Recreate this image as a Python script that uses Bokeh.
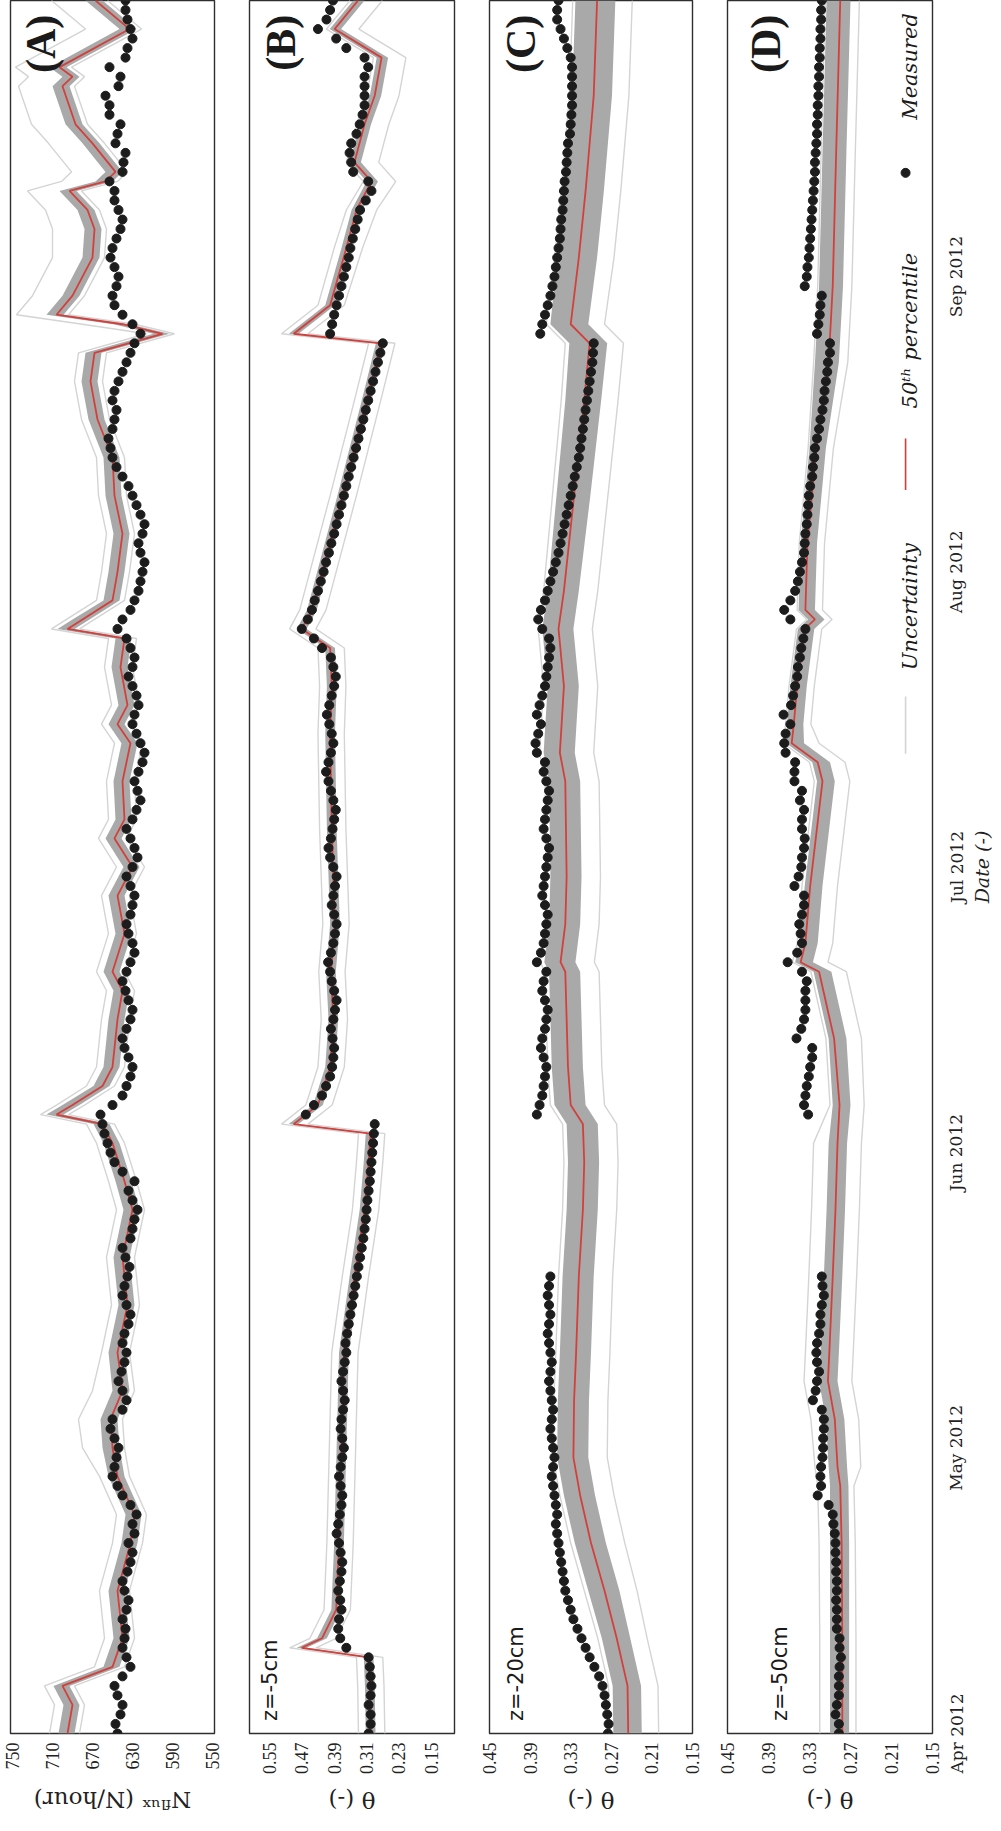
import math
import numpy as np
from bokeh.plotting import figure
from bokeh.layouts import row, column
from bokeh.models import Range1d, FixedTicker, DatetimeTickFormatter, PrintfTickFormatter, Label, BoxAnnotation
from bokeh.embed import file_html
from bokeh.resources import INLINE

# ======================= data =======================
START = "2012-04-01"
N_DAYS = 182
month_starts = ["2012-04-01", "2012-05-01", "2012-06-01", "2012-07-01", "2012-08-01", "2012-09-01"]

ticks_A = [750, 710, 670, 630, 590, 550]
ticks_B = [0.55, 0.47, 0.39, 0.31, 0.23, 0.15]
ticks_CD = [0.45, 0.39, 0.33, 0.27, 0.21, 0.15]

# ---- (A) neutron flux, measured daily (start day, values) ----
meas_A_segments = [
    (0, [645, 647, 642, 640, 645, 648, 640]),
    (7, [632, 636, 640, 638]),
    (11, [637, 640, 636, 634, 638, 640, 635, 632, 630, 634]),
    (21, [628, 630, 626, 632, 640, 645, 650, 648, 646]),
    (30, [644, 648, 652, 650, 640, 636, 640, 644, 641, 638, 636]),
    (41, [640, 638, 634, 632, 636, 640, 638, 635, 633, 637]),
    (51, [640, 632, 630, 628, 625, 630, 634, 628, 640, 648]),
    (61, [652, 655, 658, 660, 662, 650]),
    (67, [640, 636, 632, 630, 634, 638, 640, 636, 632]),
    (76, [630, 634, 637, 640, 636, 632, 628, 630, 634, 636]),
    (86, [632, 630, 628, 632, 636, 630, 625, 628, 632, 636]),
    (96, [630, 626, 622, 625, 628, 624, 620, 618, 622, 626]),
    (106, [630, 628, 624, 626, 630, 634, 630, 628, 632, 636]),
    (116, [645, 640, 632, 628, 624, 622]),
    (122, [620, 618, 622, 624, 620, 618, 622, 626, 630, 634]),
    (132, [640, 646, 650, 652, 654, 650, 648, 646, 650, 648, 644]),
    (143, [640, 636, 632, 628, 622, 630, 640]),
    (150, [648, 650, 646, 644, 648, 652, 650, 646, 642, 640, 644, 648]),
    (162, [648, 653, 640, 639, 637, 647, 645, 642, 653, 653, 657, 644, 642, 653, 637, 635, 630, 632, 635, 637, 637]),
]
mod_A_days = [0, 3, 5, 7, 10, 15, 20, 23, 27, 30, 33, 36, 40, 45, 50, 55, 58, 62, 64, 65, 66, 68, 70, 75, 78, 80,
              84, 88, 91, 94, 96, 100, 104, 106, 108, 112, 115, 116, 117, 119, 122, 126, 130, 134, 138, 142, 145,
              147, 148, 149, 151, 155, 158, 160, 162, 163, 164, 167, 169, 173, 174, 175, 179, 182]
mod_A = [695, 690, 700, 650, 640, 645, 632, 628, 645, 650, 652, 640, 645, 635, 640, 630, 638, 650, 660, 706, 690,
         660, 650, 645, 640, 650, 638, 645, 630, 648, 638, 640, 632, 645, 635, 642, 638, 695, 680, 650, 645, 640,
         648, 650, 665, 672, 668, 600, 640, 706, 690, 670, 668, 675, 693, 657, 647, 670, 687, 700, 690, 703, 633, 667]
band_up_A = [9, 9, 9, 9, 9, 9, 9, 9, 9, 10, 10, 10, 9, 9, 9, 9, 9, 9, 9, 10, 10, 9, 9, 9, 9, 9, 9, 9, 9, 9, 9, 9,
             9, 9, 9, 9, 9, 10, 10, 9, 9, 9, 9, 9, 9, 9, 9, 9, 9, 10, 10, 10, 10, 10, 10, 10, 10, 10, 10, 10, 10, 10, 10, 10]
band_dn_A = [7, 7, 7, 7, 7, 7, 7, 7, 7, 7, 7, 7, 7, 7, 7, 7, 7, 7, 7, 7, 7, 7, 7, 7, 7, 7, 7, 7, 7, 7, 7, 7,
             7, 7, 7, 7, 7, 7, 7, 7, 7, 7, 7, 7, 7, 7, 7, 7, 7, 7, 7, 7, 7, 7, 7, 7, 7, 7, 7, 7, 7, 7, 7, 7]
out_up_A = [18, 18, 18, 18, 18, 18, 18, 18, 18, 30, 32, 30, 16, 16, 16, 16, 16, 16, 16, 16, 16, 16, 16, 16, 16, 16,
            16, 16, 16, 16, 16, 16, 16, 16, 16, 16, 16, 16, 16, 16, 16, 16, 16, 16, 16, 16, 16,
            16, 40, 40, 40, 40, 42, 42, 42, 44, 44, 44, 44, 44, 44, 44, 44, 44]
out_dn_A = [12, 12, 12, 12, 12, 12, 12, 12, 12, 12, 12, 12, 12, 12, 12, 12, 12, 12, 12, 12, 12, 12, 12, 12, 12, 12,
            12, 12, 12, 12, 12, 12, 12, 12, 12, 12, 12, 12, 12, 12, 12, 12, 12, 12, 12, 12, 12,
            12, 12, 12, 12, 12, 12, 12, 12, 12, 12, 12, 12, 12, 12, 12, 12, 12]

# ---- (B) theta at z=-5 cm ----
meas_B_segments = [
    (0, [0.305, 0.300, 0.300, 0.305, 0.300, 0.298, 0.300, 0.302, 0.305]),
    (9, [0.360, 0.375]),
    (11, [0.380, 0.378, 0.372, 0.375, 0.380, 0.376, 0.372, 0.370, 0.374, 0.378]),
    (21, [0.384, 0.380, 0.376, 0.372, 0.370, 0.374, 0.378, 0.374, 0.370, 0.366]),
    (31, [0.370, 0.374, 0.372, 0.368, 0.364, 0.368, 0.372, 0.368, 0.364, 0.360]),
    (41, [0.362, 0.358, 0.354, 0.350, 0.346, 0.342, 0.338, 0.334]),
    (49, [0.330, 0.326, 0.322, 0.318, 0.315, 0.312, 0.310, 0.308, 0.305, 0.302, 0.300, 0.298]),
    (61, [0.296, 0.294, 0.292, 0.290]),
    (65, [0.460, 0.440, 0.420, 0.410, 0.400]),
    (70, [0.395, 0.392, 0.390, 0.394, 0.398, 0.392, 0.388, 0.384, 0.390, 0.396, 0.400]),
    (81, [0.405, 0.398, 0.392, 0.388, 0.384, 0.390, 0.396, 0.392, 0.388, 0.384]),
    (91, [0.392, 0.400, 0.404, 0.398, 0.394, 0.390, 0.386, 0.392, 0.398, 0.404]),
    (101, [0.410, 0.404, 0.398, 0.392, 0.396, 0.402, 0.408, 0.402, 0.396, 0.390]),
    (111, [0.386, 0.392, 0.398, 0.420, 0.440, 0.470]),
    (117, [0.455, 0.445, 0.438, 0.430, 0.423, 0.416, 0.410, 0.403, 0.397, 0.390, 0.384, 0.378, 0.372, 0.366, 0.360,
           0.354, 0.348, 0.342, 0.336, 0.330, 0.324, 0.318, 0.312, 0.306, 0.300, 0.294, 0.288, 0.282, 0.276, 0.270]),
    (147, [0.400, 0.395, 0.390, 0.384, 0.378, 0.372, 0.366, 0.360, 0.354, 0.350, 0.344, 0.338, 0.332, 0.326, 0.312]),
    (162, [0.298, 0.306, 0.343, 0.348, 0.352, 0.348, 0.335, 0.327, 0.320, 0.315, 0.315, 0.315, 0.315, 0.306, 0.315,
           0.360, 0.385, 0.430, 0.409, 0.400, 0.393]),
]
mod_B_days = [0, 5, 8, 9, 10, 13, 20, 30, 40, 48, 55, 60, 63, 64, 66, 70, 75, 80, 85, 90, 95, 100, 105, 110, 114,
              116, 118, 130, 140, 146, 147, 150, 156, 160, 163, 165, 169, 172, 176, 179, 182]
mod_B = [0.300, 0.302, 0.305, 0.470, 0.420, 0.385, 0.378, 0.372, 0.366, 0.340, 0.315, 0.305, 0.300, 0.490, 0.430,
         0.400, 0.392, 0.398, 0.388, 0.392, 0.396, 0.398, 0.400, 0.396, 0.400, 0.470, 0.445, 0.370, 0.310, 0.275,
         0.490, 0.400, 0.360, 0.335, 0.298, 0.340, 0.315, 0.290, 0.273, 0.389, 0.331]
band_up_B = [0.012, 0.012, 0.012, 0.012, 0.012, 0.012, 0.012, 0.012, 0.012, 0.012, 0.012, 0.012, 0.012, 0.012,
             0.012, 0.012, 0.012, 0.012, 0.012, 0.012, 0.012, 0.012, 0.012, 0.012, 0.012, 0.012, 0.012, 0.012,
             0.012, 0.012, 0.012, 0.012, 0.012, 0.012, 0.012, 0.012, 0.012, 0.012, 0.012, 0.012, 0.012]
band_dn_B = [0.012, 0.012, 0.012, 0.012, 0.012, 0.012, 0.012, 0.012, 0.012, 0.012, 0.012, 0.012, 0.012, 0.012,
             0.012, 0.012, 0.012, 0.012, 0.012, 0.012, 0.012, 0.012, 0.012, 0.012, 0.012, 0.012, 0.012, 0.012,
             0.012, 0.012, 0.012, 0.012, 0.012, 0.014, 0.016, 0.016, 0.016, 0.016, 0.016, 0.016, 0.016]
out_up_B = [0.030, 0.030, 0.030, 0.030, 0.030, 0.030, 0.030, 0.030, 0.030, 0.030, 0.030, 0.030, 0.030, 0.030,
            0.030, 0.030, 0.030, 0.030, 0.030, 0.030, 0.030, 0.030, 0.030, 0.030, 0.030, 0.030, 0.030, 0.030,
            0.030, 0.030, 0.030, 0.030, 0.030, 0.025, 0.020, 0.020, 0.020, 0.020, 0.020, 0.020, 0.020]
out_dn_B = [0.035, 0.035, 0.035, 0.035, 0.035, 0.035, 0.035, 0.035, 0.035, 0.035, 0.035, 0.035, 0.035, 0.035,
            0.035, 0.035, 0.035, 0.035, 0.035, 0.035, 0.035, 0.035, 0.035, 0.035, 0.035, 0.035, 0.035, 0.035,
            0.035, 0.035, 0.035, 0.035, 0.040, 0.050, 0.060, 0.060, 0.060, 0.060, 0.060, 0.060, 0.060]

# ---- (C) theta at z=-20 cm ----
meas_C_segments = [
    (0, [0.275, 0.274, 0.276, 0.278, 0.280, 0.283, 0.288]),
    (7, [0.295, 0.302, 0.308, 0.314, 0.320, 0.326, 0.330, 0.334, 0.338, 0.340, 0.342, 0.344, 0.346, 0.348]),
    (21, [0.350, 0.352, 0.350, 0.352, 0.354, 0.356, 0.358, 0.356, 0.354, 0.356, 0.358, 0.360, 0.358, 0.356,
          0.358, 0.360, 0.362, 0.360, 0.358, 0.360, 0.362, 0.364, 0.362, 0.360, 0.362, 0.364, 0.362, 0.360]),
    (65, [0.380, 0.376, 0.372, 0.370, 0.368, 0.366, 0.370, 0.374, 0.372, 0.368, 0.366, 0.364, 0.368, 0.372,
          0.370, 0.366, 0.380, 0.374, 0.370, 0.368, 0.366, 0.364, 0.368, 0.372, 0.370, 0.368, 0.366, 0.364,
          0.362, 0.366, 0.370, 0.368, 0.366, 0.364, 0.362, 0.366, 0.370, 0.368, 0.380, 0.382, 0.378, 0.374,
          0.380, 0.376, 0.372, 0.368, 0.366, 0.364]),
    (113, [0.362, 0.360, 0.362, 0.372, 0.378, 0.374, 0.368, 0.364, 0.360, 0.356, 0.352, 0.348, 0.345, 0.342,
           0.339, 0.336, 0.333, 0.330, 0.327, 0.324, 0.321, 0.318, 0.316, 0.314, 0.312, 0.310, 0.308, 0.306,
           0.304, 0.302, 0.300, 0.298, 0.297, 0.296]),
    (147, [0.375, 0.372, 0.368, 0.364, 0.360, 0.357, 0.354, 0.352, 0.350, 0.348, 0.346, 0.345, 0.344, 0.342, 0.341]),
    (162, [0.340, 0.339, 0.337, 0.336, 0.335, 0.334, 0.331, 0.330, 0.329, 0.328, 0.328, 0.328, 0.328, 0.328,
           0.330, 0.335, 0.340, 0.345, 0.350, 0.350, 0.348]),
]
mod_C_days = [0, 5, 10, 15, 20, 25, 29, 35, 40, 48, 55, 60, 64, 66, 70, 80, 81, 85, 90, 100, 103, 110, 116, 120,
              130, 140, 146, 148, 155, 162, 172, 182]
mod_C = [0.245, 0.246, 0.262, 0.280, 0.300, 0.316, 0.326, 0.325, 0.322, 0.318, 0.312, 0.310, 0.312, 0.330, 0.334,
         0.338, 0.345, 0.338, 0.336, 0.338, 0.346, 0.340, 0.348, 0.340, 0.325, 0.310, 0.302, 0.330, 0.318, 0.308,
         0.296, 0.291]
band_up_C = [0.022, 0.022, 0.022, 0.024, 0.024, 0.024, 0.024, 0.024, 0.024, 0.024, 0.024, 0.024, 0.024, 0.024,
             0.024, 0.024, 0.024, 0.024, 0.024, 0.024, 0.024, 0.024, 0.024, 0.024, 0.026, 0.028, 0.030, 0.030,
             0.032, 0.032, 0.032, 0.032]
band_dn_C = [0.020, 0.020, 0.020, 0.022, 0.022, 0.022, 0.022, 0.022, 0.022, 0.022, 0.022, 0.022, 0.022, 0.022,
             0.022, 0.022, 0.022, 0.022, 0.022, 0.022, 0.022, 0.022, 0.022, 0.022, 0.024, 0.025, 0.026, 0.026,
             0.027, 0.027, 0.027, 0.027]
out_up_C = [0.028, 0.028, 0.028, 0.030, 0.030, 0.030, 0.030, 0.030, 0.030, 0.030, 0.030, 0.030, 0.030, 0.030,
            0.030, 0.030, 0.030, 0.030, 0.030, 0.030, 0.030, 0.030, 0.030, 0.030, 0.032, 0.034, 0.036, 0.036,
            0.036, 0.036, 0.036, 0.036]
out_dn_C = [0.045, 0.045, 0.045, 0.048, 0.050, 0.050, 0.050, 0.050, 0.050, 0.050, 0.050, 0.050, 0.050, 0.050,
            0.050, 0.050, 0.050, 0.050, 0.050, 0.050, 0.050, 0.050, 0.050, 0.050, 0.050, 0.050, 0.050, 0.050,
            0.052, 0.052, 0.052, 0.052]

# ---- (D) theta at z=-50 cm, measured daily from day 0 (None = no data) ----
meas_D = [0.287, 0.287, 0.292, 0.290, 0.287, 0.287, 0.287, 0.286, 0.284, 0.286, 0.286, 0.290, 0.290, 0.290, 0.291,
          0.290, 0.290, 0.291, 0.291, 0.292, 0.292, 0.293, 0.295, 0.296, 0.302, 0.318, 0.313, 0.314,
          0.313, 0.311, 0.310, 0.310, 0.309, 0.309, 0.312, 0.325, 0.321, 0.319, 0.316, 0.319, 0.320, 0.319,
          0.316, 0.314, 0.314, 0.312, 0.309, 0.311, 0.312,
          None, None, None, None, None, None, None, None, None, None, None, None, None, None, None, None,
          0.332, 0.338, 0.336, 0.334, 0.331, 0.329, 0.326, 0.326, 0.349, 0.342, 0.338, 0.336, 0.336, 0.336,
          0.334, 0.341, 0.362, 0.348, 0.341, 0.343, 0.345, 0.341, 0.338, 0.338, 0.352, 0.346, 0.342, 0.341,
          0.338, 0.337, 0.341, 0.341, 0.338, 0.344, 0.341, 0.352, 0.352, 0.351, 0.365, 0.367, 0.365,
          0.358, 0.368, 0.357, 0.354, 0.351, 0.348, 0.347, 0.344, 0.342, 0.339, 0.336, 0.358, 0.367, 0.358,
          0.351, 0.347, 0.344, 0.341, 0.338, 0.337, 0.336, 0.334, 0.333, 0.332, 0.331, 0.329, 0.326, 0.325,
          0.323, 0.322, 0.319, 0.316, 0.314, 0.311, 0.309, 0.308, 0.306, 0.304, 0.303,
          0.300, 0.300, 0.319, 0.317, 0.315, 0.314, 0.312, 0.337, 0.334, 0.333, 0.331, 0.330, 0.329, 0.328,
          0.327, 0.326, 0.325, 0.324, 0.323, 0.322, 0.322, 0.321, 0.320, 0.319, 0.319, 0.318, 0.318, 0.317,
          0.317, 0.316, 0.316, 0.315, 0.315, 0.314, 0.314, 0.313, 0.313, 0.312]
mod_D_days = [0, 10, 20, 26, 28, 33, 37, 40, 48, 55, 62, 66, 73, 80, 81, 83, 89, 100, 102, 104, 106, 110, 116, 117,
              118, 125, 135, 144, 152, 166, 182]
mod_D = [0.282, 0.282, 0.283, 0.285, 0.289, 0.293, 0.303, 0.301, 0.296, 0.292, 0.289, 0.286, 0.294, 0.316, 0.343,
         0.336, 0.329, 0.311, 0.318, 0.356, 0.353, 0.348, 0.337, 0.322, 0.336, 0.333, 0.320, 0.302, 0.296, 0.291, 0.285]
band_hi_D = [0.300, 0.300, 0.300, 0.300, 0.302, 0.306, 0.316, 0.314, 0.309, 0.305, 0.302, 0.296, 0.302, 0.324, 0.351,
             0.344, 0.337, 0.319, 0.326, 0.364, 0.363, 0.358, 0.347, 0.332, 0.346, 0.343, 0.330, 0.322, 0.316, 0.311, 0.305]
band_lo_D = [0.272, 0.272, 0.272, 0.273, 0.275, 0.279, 0.289, 0.287, 0.282, 0.278, 0.275, 0.270, 0.276, 0.298, 0.325,
             0.318, 0.311, 0.293, 0.300, 0.338, 0.339, 0.334, 0.323, 0.308, 0.322, 0.319, 0.306, 0.287, 0.281, 0.276, 0.270]
out_hi_D = [0.315, 0.315, 0.316, 0.318, 0.322, 0.328, 0.338, 0.336, 0.331, 0.327, 0.324, 0.300, 0.306, 0.328, 0.355,
            0.348, 0.341, 0.323, 0.330, 0.368, 0.365, 0.360, 0.349, 0.334, 0.348, 0.345, 0.332, 0.324, 0.318, 0.313, 0.307]
out_lo_D = [0.262, 0.262, 0.263, 0.265, 0.255, 0.258, 0.268, 0.266, 0.261, 0.257, 0.254, 0.250, 0.254, 0.276, 0.303,
            0.296, 0.289, 0.271, 0.278, 0.316, 0.328, 0.323, 0.312, 0.297, 0.311, 0.308, 0.295, 0.274, 0.268, 0.263, 0.257]

# ======================= helpers =======================
BASE = float(np.datetime64(START, "ms").astype("int64"))
DAY = 86400000.0


def t(days):
    return BASE + np.asarray(days, dtype=float) * DAY


def arr(vals):
    return np.array([np.nan if v is None else v for v in vals], dtype=float)


def daily(segments):
    out = [None] * (N_DAYS + 1)
    for start, vals in segments:
        for i, v in enumerate(vals):
            out[start + i] = v
    return out


def add(a, b, sign=1.0):
    return [x + sign * y for x, y in zip(a, b)]


SERIF = "Liberation Serif"
MATH = "DejaVu Serif"
RED = "#d2403c"
BAND = "#a9a9a9"
LIGHT = "#d4d4d4"
INK = "#1c1c1c"
FRAME_H = 1733
BOTTOM = 44


def make_panel(xr, ticks, fmt, left, right, fw, data):
    p = figure(frame_width=fw, frame_height=FRAME_H,
               x_range=Range1d(*xr), y_range=Range1d(t(0), t(N_DAYS)),
               output_backend="svg", toolbar_location=None, y_axis_location=None,
               min_border_left=left, min_border_right=right, min_border_top=0, min_border_bottom=BOTTOM)
    p.background_fill_color = "white"
    p.border_fill_color = "white"
    p.outline_line_color = "#2e2e2e"
    p.outline_line_width = 1.4
    p.xgrid.visible = False
    p.ygrid.visible = False

    ax = p.xaxis[0]
    ax.ticker = FixedTicker(ticks=ticks)
    ax.formatter = PrintfTickFormatter(format=fmt)
    ax.major_label_orientation = math.pi / 2
    ax.axis_line_color = None
    ax.major_tick_line_color = None
    ax.minor_tick_line_color = None
    ax.major_tick_out = 0
    ax.major_tick_in = 0
    ax.major_label_standoff = 9
    ax.major_label_text_font = SERIF
    ax.major_label_text_font_size = "18px"
    ax.major_label_text_color = "#222222"

    mdays, mvals, mod_days, mod, bhi, blo, ohi, olo = data
    yy = t(mod_days)
    p.harea(x1=arr(blo), x2=arr(bhi), y=yy, fill_color=BAND, fill_alpha=1.0)
    p.line(x=arr(ohi), y=yy, line_color=LIGHT, line_width=1.4)
    p.line(x=arr(olo), y=yy, line_color=LIGHT, line_width=1.4)
    p.line(x=arr(mod), y=yy, line_color=RED, line_width=1.8)
    p.scatter(x=arr(mvals), y=t(mdays), size=9, fill_color=INK, line_color=INK)
    return p


def make_title(text, left, right, fw):
    """Thin strip under a panel carrying its (upside-down) value-axis title."""
    q = figure(frame_width=fw, frame_height=36, x_range=Range1d(0, 1), y_range=Range1d(0, 1),
               output_backend="svg", toolbar_location=None, x_axis_location=None, y_axis_location=None,
               min_border_left=left, min_border_right=right, min_border_top=0, min_border_bottom=0)
    q.outline_line_color = None
    q.background_fill_color = "white"
    q.border_fill_color = "white"
    q.xgrid.visible = False
    q.ygrid.visible = False
    q.scatter(x=[0.5], y=[0.5], size=0, fill_alpha=0, line_alpha=0)
    q.add_layout(Label(x=0.5, y=0.37, text=text, angle=math.pi, text_align="center", text_baseline="middle",
                       text_font=MATH, text_font_size="23px", text_color="#222222"))
    return q


days_all = list(range(N_DAYS + 1))
meas_A = daily(meas_A_segments)
meas_B = daily(meas_B_segments)
meas_C = daily(meas_C_segments)

# borders (left, right) for each panel column
BA, BB, BC, BD = (10, 17), (18, 17), (18, 17), (18, 11)

pA = make_panel((752, 548), ticks_A, "%d", *BA, 204,
                (days_all, meas_A, mod_A_days, mod_A, add(mod_A, band_up_A), add(mod_A, band_dn_A, -1),
                 add(mod_A, out_up_A), add(mod_A, out_dn_A, -1)))
pB = make_panel((0.599, 0.093), ticks_B, "%.2f", *BB, 205,
                (days_all, meas_B, mod_B_days, mod_B, add(mod_B, band_up_B), add(mod_B, band_dn_B, -1),
                 add(mod_B, out_up_B), add(mod_B, out_dn_B, -1)))
pC = make_panel((0.45, 0.15), ticks_CD, "%.2f", *BC, 203,
                (days_all, meas_C, mod_C_days, mod_C, add(mod_C, band_up_C), add(mod_C, band_dn_C, -1),
                 add(mod_C, out_up_C), add(mod_C, out_dn_C, -1)))
pD = make_panel((0.45, 0.15), ticks_CD, "%.2f", *BD, 205,
                (list(range(len(meas_D))), meas_D, mod_D_days, mod_D, band_hi_D, band_lo_D, out_hi_D, out_lo_D))

tA = make_title("Nᶠˡᵘˣ (N/hour)", *BA, 204)
tB = make_title("θ (-)", *BB, 205)
tC = make_title("θ (-)", *BC, 203)
tD = make_title("θ (-)", *BD, 205)

# ---- date axis: a thin companion plot sharing the time scale ----
pT = figure(frame_width=24, frame_height=FRAME_H, x_range=Range1d(0, 24), y_range=pD.y_range,
            y_axis_type="datetime", y_axis_location="left", x_axis_location=None,
            output_backend="svg", toolbar_location=None,
            min_border_left=0, min_border_right=0, min_border_top=0, min_border_bottom=BOTTOM)
pT.outline_line_color = None
pT.background_fill_color = "white"
pT.border_fill_color = "white"
pT.xgrid.visible = False
pT.ygrid.visible = False
ya = pT.yaxis[0]
ya.ticker = FixedTicker(ticks=[float(np.datetime64(m, "ms").astype("int64")) for m in month_starts])
ya.formatter = DatetimeTickFormatter(days="%b %Y", months="%b %Y", years="%b %Y")
ya.major_label_orientation = "vertical"
ya.axis_line_color = None
ya.major_tick_line_color = None
ya.minor_tick_line_color = None
ya.major_tick_out = 0
ya.major_tick_in = 0
ya.major_label_standoff = 3
ya.major_label_text_font = MATH
ya.major_label_text_font_size = "17px"
ya.major_label_text_color = "#222222"
pT.scatter(x=[12], y=[float(t(1))], size=0, fill_alpha=0, line_alpha=0)
pT.add_layout(Label(x=1.5, y=float(t(N_DAYS / 2)), text="Date (-)", angle=math.pi / 2, text_align="center",
                    text_baseline="top", text_font=MATH, text_font_style="italic", text_font_size="19px",
                    text_color="#222222"))

# ---- panel letters ----
for p, xv, txt in [(pA, 745, "(A)"), (pB, 0.577, "(B)"), (pC, 0.437, "(C)"), (pD, 0.427, "(D)")]:
    p.add_layout(Label(x=xv, y=float(t(180.5)), text=txt, angle=math.pi / 2, text_align="right",
                       text_baseline="top", text_font=SERIF, text_font_style="bold",
                       text_font_size="42px", text_color="#1a1a1a"))

# ---- depth labels ----
for p, xv, txt in [(pB, 0.579, "z=-5cm"), (pC, 0.428, "z=-20cm"), (pD, 0.391, "z=-50cm")]:
    p.add_layout(Label(x=xv, y=float(t(1.3)), text=txt, angle=math.pi / 2, text_align="left",
                       text_baseline="top", text_font="DejaVu Sans", text_font_size="21px",
                       text_color="#1a1a1a"))

# ---- legend (rotated, inside panel D) ----
leg_x = 0.2011
leg_sym_x = 0.1894
for d_end, txt in [(180.67, "Measured"), (155.5, "50ᵗʰ percentile"), (125.0, "Uncertainty")]:
    pD.add_layout(Label(x=leg_x, y=float(t(d_end)), text=txt, angle=math.pi / 2, text_align="right",
                        text_baseline="top", text_font=MATH, text_font_style="italic",
                        text_font_size="21px", text_color="#1a1a1a"))
pD.scatter(x=[leg_sym_x], y=[float(t(163.9))], size=9, fill_color=INK, line_color=INK)
pD.add_layout(BoxAnnotation(left=leg_sym_x + 0.0012, right=leg_sym_x - 0.0012,
                            bottom=float(t(130.6)), top=float(t(136.0)),
                            fill_color=RED, fill_alpha=1.0, line_color=None))
pD.add_layout(BoxAnnotation(left=leg_sym_x + 0.0012, right=leg_sym_x - 0.0012,
                            bottom=float(t(102.9)), top=float(t(108.9)),
                            fill_color=LIGHT, fill_alpha=1.0, line_color=None))

layout = column(row(pA, pB, pC, pD, pT), row(tA, tB, tC, tD))
open("out.html", "w").write(file_html(layout, INLINE))
